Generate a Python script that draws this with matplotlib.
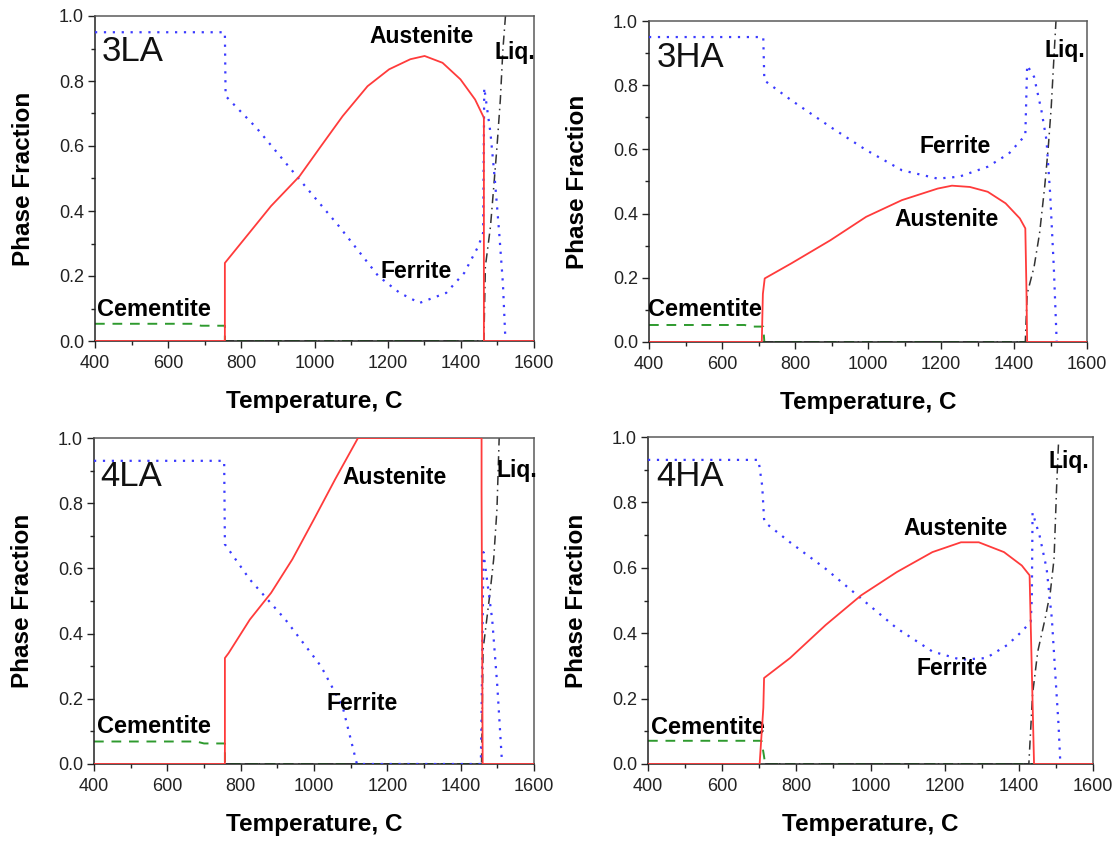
import matplotlib
matplotlib.use("Agg")
import matplotlib.pyplot as plt
from matplotlib.ticker import MultipleLocator

plt.rcParams['font.family'] = ['Liberation Sans', 'DejaVu Sans']

# ---------------- data: panel 3LA ----------------
t_3LA_aus = [400, 755, 755, 822, 881, 959, 1018, 1077, 1145, 1204, 1262, 1301, 1350, 1399, 1439, 1463, 1463, 1600]
v_3LA_aus = [0, 0, 0.24, 0.333, 0.415, 0.507, 0.6, 0.692, 0.784, 0.836, 0.867, 0.877, 0.856, 0.805, 0.743, 0.687, 0, 0]
t_3LA_fer = [400, 755, 757, 842, 959, 1067, 1175, 1233, 1287, 1360, 1409, 1448, 1461, 1464, 1481, 1493, 1505, 1515, 1522]
v_3LA_fer = [0.95, 0.95, 0.754, 0.655, 0.497, 0.353, 0.199, 0.148, 0.117, 0.148, 0.209, 0.292, 0.333, 0.779, 0.64, 0.496, 0.331, 0.177, 0]
t_3LA_cem = [400, 666, 690, 755, 755, 1463]
v_3LA_cem = [0.053, 0.053, 0.047, 0.047, 0, 0]
t_3LA_liq = [755, 1463, 1467, 1481, 1490, 1499, 1508, 1515, 1522]
v_3LA_liq = [0, 0, 0.228, 0.352, 0.475, 0.6, 0.743, 0.897, 1.0]

# ---------------- data: panel 3HA ----------------
t_3HA_aus = [400, 709, 712, 717, 790, 897, 995, 1093, 1191, 1230, 1279, 1328, 1377, 1416, 1431, 1434, 1436, 1600]
v_3HA_aus = [0, 0, 0.15, 0.198, 0.245, 0.317, 0.39, 0.442, 0.478, 0.487, 0.483, 0.468, 0.432, 0.385, 0.354, 0.17, 0, 0]
t_3HA_fer = [400, 713, 716, 790, 897, 995, 1093, 1191, 1250, 1328, 1386, 1431, 1436, 1455, 1475, 1489, 1499, 1509, 1517]
v_3HA_fer = [0.95, 0.95, 0.815, 0.753, 0.67, 0.598, 0.535, 0.509, 0.515, 0.546, 0.587, 0.644, 0.862, 0.826, 0.722, 0.629, 0.463, 0.234, 0]
t_3HA_cem = [400, 662, 680, 713, 716, 1436]
v_3HA_cem = [0.053, 0.053, 0.048, 0.048, 0, 0]
t_3HA_liq = [716, 1431, 1436, 1455, 1470, 1484, 1494, 1502, 1509, 1515]
v_3HA_liq = [0, 0, 0.15, 0.234, 0.338, 0.483, 0.608, 0.732, 0.878, 1.0]

# ---------------- data: panel 4LA ----------------
t_4LA_aus = [400, 757, 757, 767, 825, 883, 941, 1000, 1058, 1120, 1457, 1457, 1460, 1600]
v_4LA_aus = [0, 0, 0.325, 0.34, 0.443, 0.525, 0.628, 0.751, 0.874, 1.0, 1.0, 0.838, 0, 0]
t_4LA_fer = [400, 755, 757, 825, 922, 1019, 1078, 1117, 1455, 1457, 1462, 1486, 1500, 1513]
v_4LA_fer = [0.93, 0.93, 0.674, 0.566, 0.443, 0.3, 0.176, 0, 0, 0.15, 0.65, 0.443, 0.238, 0]
t_4LA_cem = [400, 679, 700, 757, 757, 1457]
v_4LA_cem = [0.069, 0.069, 0.063, 0.063, 0, 0]
t_4LA_liq = [757, 1457, 1461, 1480, 1490, 1499, 1505]
v_4LA_liq = [0, 0, 0.35, 0.525, 0.628, 0.782, 1.0]

# ---------------- data: panel 4HA ----------------
t_4HA_aus = [400, 701, 711, 713, 783, 879, 975, 1071, 1167, 1244, 1292, 1360, 1408, 1429, 1432, 1441, 1600]
v_4HA_aus = [0, 0, 0.172, 0.263, 0.324, 0.425, 0.516, 0.587, 0.648, 0.678, 0.678, 0.648, 0.607, 0.577, 0.43, 0, 0]
t_4HA_fer = [400, 698, 708, 713, 715, 783, 879, 975, 1071, 1167, 1244, 1312, 1369, 1408, 1432, 1435, 1437, 1456, 1475, 1489, 1499, 1507, 1512]
v_4HA_fer = [0.93, 0.93, 0.85, 0.749, 0.739, 0.678, 0.597, 0.506, 0.415, 0.344, 0.319, 0.324, 0.364, 0.405, 0.435, 0.506, 0.769, 0.698, 0.597, 0.445, 0.263, 0.121, 0]
t_4HA_cem = [400, 706, 712, 716, 1441]
v_4HA_cem = [0.071, 0.071, 0.03, 0, 0]
t_4HA_liq = [716, 1427, 1437, 1451, 1471, 1485, 1495, 1502, 1507]
v_4HA_liq = [0, 0, 0.213, 0.344, 0.445, 0.526, 0.628, 0.85, 0.982]

panel_names = ["3LA", "3HA", "4LA", "4HA"]
x_ticks = [400, 600, 800, 1000, 1200, 1400, 1600]
y_ticks = [0.0, 0.2, 0.4, 0.6, 0.8, 1.0]

# text label positions (data coords)
labels = {
    "3LA": {"name": (418, 0.89), "aus": (1292, 0.936), "fer": (1277, 0.215), "cem": (406, 0.097), "liq": (1493, 0.887)},
    "3HA": {"name": (420, 0.885), "aus": (1215, 0.382), "fer": (1240, 0.608), "cem": (397, 0.102), "liq": (1483, 0.909)},
    "4LA": {"name": (417, 0.883), "aus": (1219, 0.879), "fer": (1131, 0.186), "cem": (408, 0.115), "liq": (1499, 0.90)},
    "4HA": {"name": (422, 0.88), "aus": (1229, 0.721), "fer": (1220, 0.291), "cem": (409, 0.111), "liq": (1480, 0.926)},
}

data = {
    "3LA": (t_3LA_aus, v_3LA_aus, t_3LA_fer, v_3LA_fer, t_3LA_cem, v_3LA_cem, t_3LA_liq, v_3LA_liq),
    "3HA": (t_3HA_aus, v_3HA_aus, t_3HA_fer, v_3HA_fer, t_3HA_cem, v_3HA_cem, t_3HA_liq, v_3HA_liq),
    "4LA": (t_4LA_aus, v_4LA_aus, t_4LA_fer, v_4LA_fer, t_4LA_cem, v_4LA_cem, t_4LA_liq, v_4LA_liq),
    "4HA": (t_4HA_aus, v_4HA_aus, t_4HA_fer, v_4HA_fer, t_4HA_cem, v_4HA_cem, t_4HA_liq, v_4HA_liq),
}

# axes boxes in pixels: left, right, top, bottom
W, H = 1118, 841
boxes = {
    "3LA": (95, 534, 16, 341),
    "3HA": (649, 1087, 21, 342),
    "4LA": (94, 534, 438, 764),
    "4HA": (648, 1093, 437, 764),
}

RED = "#ff3b3b"
BLUE = "#3a3aff"
GREEN = "#2e9a2e"
DARK = "#333333"
FRAME = "#5a5a5a"

fig = plt.figure(figsize=(W / 100, H / 100), dpi=100)

for name in panel_names:
    l, r, t, b = boxes[name]
    ax = fig.add_axes([l / W, (H - b) / H, (r - l) / W, (b - t) / H])
    ta, va, tf, vf, tc, vc, tl, vl = data[name]
    ax.plot(tl, vl, color=DARK, lw=1.1, ls=(0, (6, 3, 1, 3)), zorder=2)
    ax.plot(tc, vc, color=GREEN, lw=1.4, ls=(0, (5, 4)), zorder=2)
    ax.plot(tf, vf, color=BLUE, lw=1.6, ls=(0, (1, 3)), zorder=3)
    ax.plot(ta, va, color=RED, lw=1.3, zorder=4)

    ax.set_xlim(400, 1600)
    ax.set_ylim(0, 1.0)
    ax.set_xticks(x_ticks)
    ax.set_yticks(y_ticks)
    ax.set_yticklabels([f"{v:.1f}" for v in y_ticks])
    ax.xaxis.set_minor_locator(MultipleLocator(100))
    ax.yaxis.set_minor_locator(MultipleLocator(0.1))
    ax.tick_params(which="major", direction="out", length=5, width=1, colors="#222222",
                   labelsize=13, top=False, right=False)
    ax.tick_params(axis="x", which="major", pad=5)
    ax.tick_params(axis="y", which="major", pad=3)
    ax.tick_params(which="minor", direction="out", length=3, width=1, colors="#222222",
                   top=False, right=False)
    for sp in ax.spines.values():
        sp.set_color(FRAME)
        sp.set_linewidth(1.1)
    ax.spines["left"].set_color("#222222")
    ax.spines["bottom"].set_color("#222222")

    ax.set_xlabel("Temperature, C", fontsize=17.5, fontweight="bold", labelpad=13)
    ax.set_ylabel("Phase Fraction", fontsize=17.5, fontweight="bold", labelpad=17)

    lab = labels[name]
    ax.text(*lab["name"], name, fontsize=25, ha="left", va="center", color="#111111")
    ax.text(*lab["aus"], "Austenite", fontsize=16.5, fontweight="bold", ha="center", va="center")
    ax.text(*lab["fer"], "Ferrite", fontsize=16.5, fontweight="bold", ha="center", va="center")
    ax.text(*lab["cem"], "Cementite", fontsize=17, fontweight="bold", ha="left", va="center")
    ax.text(*lab["liq"], "Liq.", fontsize=16.5, fontweight="bold", ha="left", va="center")

fig.savefig("out.png", dpi=100)
